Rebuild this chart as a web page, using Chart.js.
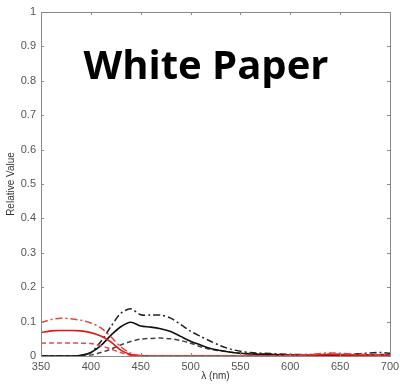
<!DOCTYPE html>
<html>
<head>
<meta charset="UTF-8">
<title>White Paper</title>
<script src="https://cdn.jsdelivr.net/npm/chart.js@4.4.1/dist/chart.umd.min.js"></script>
<style>
  html, body { margin: 0; padding: 0; background: #fff; }
  #wrap { width: 400px; height: 384px; }
</style>
</head>
<body>
<div id="wrap"><canvas id="plot"></canvas></div>
<script>
// wavelengths (nm) for each sample
const wavelength = [350, 360, 370, 380, 390, 400, 410, 420, 430, 440, 450, 460, 470, 480, 490, 500,
                    510, 520, 530, 540, 550, 560, 580, 600, 620, 640, 660, 680, 690, 700];

// red curves
const redSolid   = [0.068, 0.073, 0.074, 0.074, 0.073, 0.068, 0.058, 0.041, 0.017, 0.004, 0.001, 0, 0, 0, 0, 0,
                    0, 0, 0, 0, 0, 0, 0, 0.001, 0.002, 0.004, 0.003, 0.002, 0.002, 0.002];
const redDashed  = [0.037, 0.038, 0.038, 0.038, 0.037, 0.036, 0.030, 0.020, 0.010, 0.002, 0.001, 0, 0, 0, 0, 0,
                    0, 0, 0, 0, 0, 0, 0, 0.001, 0.003, 0.006, 0.004, 0.003, 0.002, 0.002];
const redDashDot = [0.097, 0.106, 0.110, 0.108, 0.104, 0.096, 0.082, 0.056, 0.027, 0.008, 0.001, 0, 0, 0, 0, 0,
                    0, 0, 0, 0, 0, 0, 0.001, 0.002, 0.004, 0.009, 0.006, 0.004, 0.003, 0.003];

// black curves
const blackSolid   = [0, 0, 0, 0, 0.002, 0.010, 0.030, 0.060, 0.085, 0.098, 0.087, 0.084, 0.079, 0.071, 0.057, 0.043,
                      0.032, 0.022, 0.016, 0.011, 0.008, 0.006, 0.004, 0.003, 0.002, 0.002, 0.002, 0.003, 0.003, 0.003];
const blackDashed  = [0, 0, 0, 0, 0.001, 0.003, 0.010, 0.020, 0.032, 0.042, 0.049, 0.051, 0.052, 0.050, 0.045, 0.037,
                      0.027, 0.019, 0.015, 0.011, 0.008, 0.007, 0.005, 0.003, 0.002, 0.002, 0.003, 0.004, 0.004, 0.004];
const blackDashDot = [0, 0, 0, 0, 0.002, 0.010, 0.042, 0.085, 0.124, 0.137, 0.120, 0.119, 0.119, 0.110, 0.092, 0.072,
                      0.057, 0.043, 0.030, 0.020, 0.014, 0.010, 0.007, 0.005, 0.004, 0.004, 0.005, 0.009, 0.010, 0.008];

const xTicks = [350, 400, 450, 500, 550, 600, 650, 700];
const yTicks = [0, 0.1, 0.2, 0.3, 0.4, 0.5, 0.6, 0.7, 0.8, 0.9, 1];

function pts(values) {
  return wavelength.map((w, i) => ({ x: w, y: values[i] }));
}

function line(values, color, dash, width) {
  return {
    data: pts(values),
    borderColor: color,
    borderWidth: width,
    borderDash: dash,
    pointRadius: 0,
    fill: false,
    tension: 0.3
  };
}

// matlab-like box with inward ticks plus the big caption
const boxPlugin = {
  id: 'box',
  afterDraw(chart) {
    const ctx = chart.ctx;
    const a = chart.chartArea;
    const xs = chart.scales.x, ys = chart.scales.y;
    ctx.save();
    ctx.strokeStyle = '#8a8a8a';
    ctx.lineWidth = 1;
    ctx.strokeRect(a.left + 0.5, a.top + 0.5, a.right - a.left, a.bottom - a.top);
    ctx.beginPath();
    xTicks.forEach(v => {
      const px = Math.round(xs.getPixelForValue(v)) + 0.5;
      ctx.moveTo(px, a.bottom); ctx.lineTo(px, a.bottom - 3);
      ctx.moveTo(px, a.top); ctx.lineTo(px, a.top + 3);
    });
    yTicks.forEach(v => {
      const py = Math.round(ys.getPixelForValue(v)) + 0.5;
      ctx.moveTo(a.left, py); ctx.lineTo(a.left + 3, py);
      ctx.moveTo(a.right, py); ctx.lineTo(a.right - 3, py);
    });
    ctx.stroke();

    ctx.fillStyle = '#000';
    ctx.font = 'bold 40px "Open Sans", sans-serif';
    ctx.textAlign = 'center';
    ctx.textBaseline = 'alphabetic';
    ctx.fillText('White Paper', 206, 79);
    ctx.restore();
  }
};

new Chart(document.getElementById('plot'), {
  type: 'line',
  data: {
    datasets: [
      line(redDashDot, '#e8403a', [7, 3, 2, 3], 1.5),
      line(redSolid, '#e01818', [], 1.6),
      line(redDashed, '#e84a4a', [5, 3], 1.5),
      line(blackDashDot, '#222', [7, 3, 2, 3], 1.5),
      line(blackSolid, '#111', [], 1.6),
      line(blackDashed, '#444', [5, 3], 1.5)
    ]
  },
  options: {
    responsive: true,
    maintainAspectRatio: false,
    animation: false,
    layout: { padding: { top: 12, right: 10, left: 0, bottom: 0 } },
    plugins: { legend: { display: false }, tooltip: { enabled: false } },
    scales: {
      x: {
        type: 'linear',
        min: 350,
        max: 700,
        afterBuildTicks(s) { s.ticks = xTicks.map(v => ({ value: v })); },
        afterFit(s) { s.height = 28; s.paddingLeft = 0; s.paddingRight = 0; },
        grid: { display: false, drawTicks: false },
        border: { display: false },
        ticks: { color: '#555', font: { family: 'Liberation Sans', size: 11 }, padding: 4, maxRotation: 0 },
        title: { display: true, text: 'λ (nm)', color: '#333', font: { family: 'Liberation Sans', size: 10 }, padding: { top: 0, bottom: 2 } }
      },
      y: {
        min: 0,
        max: 1,
        afterBuildTicks(s) { s.ticks = yTicks.map(v => ({ value: v })); },
        afterFit(s) { s.width = 41; s.paddingTop = 0; s.paddingBottom = 0; },
        grid: { display: false, drawTicks: false },
        border: { display: false },
        ticks: {
          color: '#555',
          font: { family: 'Liberation Sans', size: 11 },
          padding: 5,
          callback: v => String(Math.round(v * 10) / 10)
        },
        title: { display: true, text: 'Relative Value', color: '#333', font: { family: 'Liberation Sans', size: 10 }, padding: { top: 5, bottom: 0 } }
      }
    }
  },
  plugins: [boxPlugin]
});
</script>
</body>
</html>
